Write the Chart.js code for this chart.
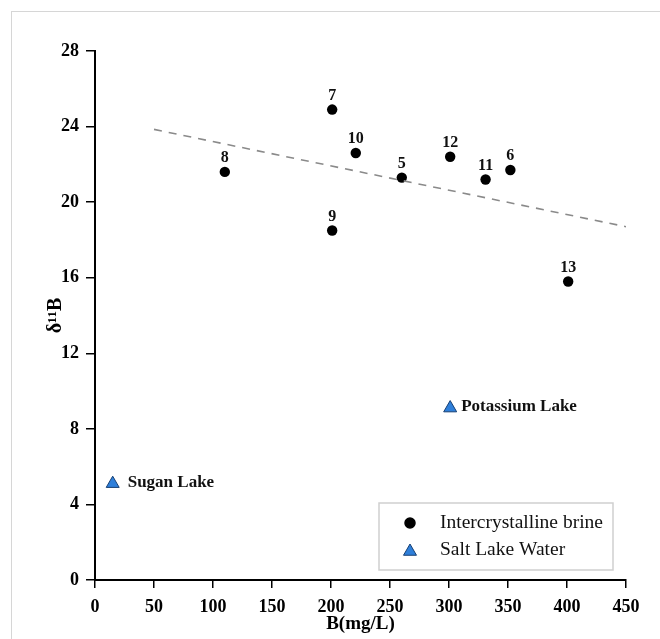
<!DOCTYPE html>
<html>
<head>
<meta charset="utf-8">
<script src="https://cdn.jsdelivr.net/npm/chart.js@4.4.1/dist/chart.umd.min.js"></script>
<style>
  html, body { margin: 0; padding: 0; background: #fff; }
  #wrap { position: relative; width: 660px; height: 639px; }
  #frame { position: absolute; left: 11px; top: 11px; right: 0; bottom: 0;
           border-top: 1.5px solid #d6d6d6; border-left: 1.5px solid #d6d6d6; }
  canvas { position: absolute; left: 0; top: 0; }
</style>
</head>
<body>
<div id="wrap">
  <div id="frame"></div>
  <canvas id="c" width="660" height="639"></canvas>
</div>
<script>
// Intercrystalline brine samples (sample no., B in mg/L, δ11B)
const brineLabels = ['5', '6', '7', '8', '9', '10', '11', '12', '13'];
const brineB      = [260, 352, 201, 110, 201, 221, 331, 301, 401];
const brineD11B   = [21.3, 21.7, 24.9, 21.6, 18.5, 22.6, 21.2, 22.4, 15.8];

// Salt lake water
const lakeLabels = ['Sugan Lake', 'Potassium Lake'];
const lakeB      = [15, 301];
const lakeD11B   = [5.1, 9.1];

// Trend line end points
const trendB    = [50, 450];
const trendD11B = [23.85, 18.7];

// Axis ticks
const xTicks = [0, 50, 100, 150, 200, 250, 300, 350, 400, 450];
const yTicks = [0, 4, 8, 12, 16, 20, 24, 28];

const SERIF = "'Liberation Serif', 'Times New Roman', serif";
const pts = (xs, ys) => xs.map((x, i) => ({ x: x, y: ys[i] }));

// Sample labels next to each marker
const pointLabels = {
  id: 'pointLabels',
  afterDatasetsDraw(chart) {
    const ctx = chart.ctx;
    ctx.save();
    ctx.fillStyle = '#111';
    chart.data.datasets.forEach((ds, di) => {
      if (!ds.pointText) return;
      const meta = chart.getDatasetMeta(di);
      meta.data.forEach((el, i) => {
        if (ds.pointTextSide === 'right') {
          ctx.font = 'bold 17px ' + SERIF;
          ctx.textAlign = 'left';
          ctx.textBaseline = 'middle';
          ctx.fillText(ds.pointText[i], el.x + ds.pointTextGap[i], el.y - 1);
        } else {
          ctx.font = 'bold 16px ' + SERIF;
          ctx.textAlign = 'center';
          ctx.textBaseline = 'middle';
          ctx.fillText(ds.pointText[i], el.x, el.y - 14);
        }
      });
    });
    ctx.restore();
  }
};

// Boxed legend inside the plot area
const boxLegend = {
  id: 'boxLegend',
  afterDraw(chart) {
    const ctx = chart.ctx;
    const items = chart.data.datasets.filter(d => d.inLegend);
    const bx = 379, by = 503, bw = 234, bh = 67;
    ctx.save();
    ctx.fillStyle = '#fff';
    ctx.fillRect(bx, by, bw, bh);
    ctx.strokeStyle = '#cfcfcf';
    ctx.lineWidth = 1.5;
    ctx.strokeRect(bx, by, bw, bh);
    items.forEach((d, i) => {
      const y = by + 20 + i * 27;
      const x = bx + 31;
      ctx.beginPath();
      if (d.pointStyle === 'triangle') {
        const r = 7.5;
        ctx.moveTo(x, y - r + 1.5);
        ctx.lineTo(x + r * 0.866, y + r * 0.5 + 1.5);
        ctx.lineTo(x - r * 0.866, y + r * 0.5 + 1.5);
        ctx.closePath();
      } else {
        ctx.arc(x, y, 5, 0, Math.PI * 2);
      }
      ctx.fillStyle = d.backgroundColor;
      ctx.fill();
      ctx.strokeStyle = d.borderColor;
      ctx.lineWidth = d.borderWidth;
      ctx.stroke();
      ctx.fillStyle = '#111';
      ctx.font = '19.5px ' + SERIF;
      ctx.textAlign = 'left';
      ctx.textBaseline = 'middle';
      ctx.fillText(d.label, bx + 61, y);
    });
    ctx.restore();
  }
};

new Chart(document.getElementById('c'), {
  type: 'scatter',
  data: {
    datasets: [
      {
        label: 'trend',
        type: 'line',
        data: pts(trendB, trendD11B),
        borderColor: '#8a8a8a',
        borderWidth: 1.6,
        borderDash: [8, 7],
        pointRadius: 0,
        fill: false
      },
      {
        label: 'Intercrystalline brine',
        inLegend: true,
        data: pts(brineB, brineD11B),
        pointStyle: 'circle',
        pointRadius: 5.2,
        backgroundColor: '#000',
        borderColor: '#000',
        borderWidth: 0,
        pointText: brineLabels
      },
      {
        label: 'Salt Lake Water',
        inLegend: true,
        data: pts(lakeB, lakeD11B),
        pointStyle: 'triangle',
        pointRadius: 7.5,
        backgroundColor: '#2e7fda',
        borderColor: '#163f73',
        borderWidth: 1,
        pointText: lakeLabels,
        pointTextSide: 'right',
        pointTextGap: [15, 11]
      }
    ]
  },
  options: {
    responsive: false,
    animation: false,
    layout: { padding: { left: 20, top: 51, right: 34, bottom: 0 } },
    plugins: { legend: { display: false }, tooltip: { enabled: false } },
    scales: {
      x: {
        type: 'linear',
        min: 0, max: 450,
        afterBuildTicks: s => { s.ticks = xTicks.map(v => ({ value: v })); },
        afterFit: s => { s.height = 59; },
        ticks: { color: '#000', padding: 9, font: { family: SERIF, size: 18, weight: 'bold' } },
        grid: { drawOnChartArea: false, drawTicks: true, tickLength: 8, color: '#000', lineWidth: 1.5 },
        border: { display: true, color: '#000', width: 2 },
        title: { display: true, text: 'B(mg/L)', color: '#000', padding: { top: 0, bottom: 4 },
                 font: { family: SERIF, size: 19, weight: 'bold' } }
      },
      y: {
        type: 'linear',
        min: 0, max: 28,
        afterBuildTicks: s => { s.ticks = yTicks.map(v => ({ value: v })); },
        afterFit: s => { s.width = 75; },
        ticks: { color: '#000', padding: 7, font: { family: SERIF, size: 18, weight: 'bold' } },
        grid: { drawOnChartArea: false, drawTicks: true, tickLength: 9, color: '#000', lineWidth: 1.5 },
        border: { display: true, color: '#000', width: 2 },
        title: { display: true, text: 'δ¹¹B', color: '#000', padding: { top: 24, bottom: 0 },
                 font: { family: SERIF, size: 20, weight: 'bold' } }
      }
    }
  },
  plugins: [pointLabels, boxLegend]
});
</script>
</body>
</html>
